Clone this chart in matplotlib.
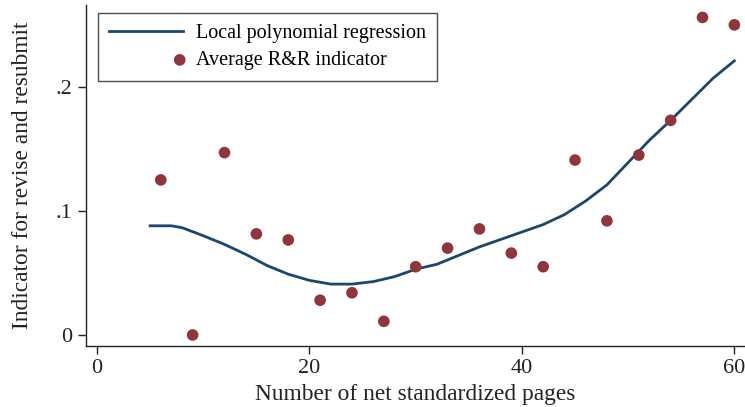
import numpy as np
import matplotlib
matplotlib.use("Agg")
import matplotlib.pyplot as plt
from matplotlib.legend_handler import HandlerPathCollection

# average R&R indicator by page bin
pages = [6, 9, 12, 15, 18, 21, 24, 27, 30, 33, 36, 39, 42, 45, 48, 51, 54, 57, 60]
avg_rr = [0.125, 0.0, 0.147, 0.0815, 0.0766, 0.028, 0.034, 0.011, 0.055, 0.070,
          0.0855, 0.066, 0.055, 0.141, 0.092, 0.145, 0.173, 0.256, 0.250]

# local polynomial fit
fit_x = [5, 7, 8, 10, 12, 14, 16, 18, 20, 22, 24, 26, 28, 30, 32, 34, 36, 38, 40,
         42, 44, 46, 48, 50, 52, 54, 56, 58, 60]
fit_y = [0.088, 0.088, 0.0865, 0.080, 0.073, 0.065, 0.056, 0.049, 0.044, 0.041,
         0.041, 0.043, 0.047, 0.053, 0.057, 0.064, 0.071, 0.077, 0.083, 0.089,
         0.097, 0.108, 0.121, 0.139, 0.157, 0.173, 0.190, 0.207, 0.221]

xticks = [0, 20, 40, 60]
yticks = [0, 0.1, 0.2]
ytick_labels = ["0", ".1", ".2"]


class RightMarker(HandlerPathCollection):
    # stata puts the legend marker at the right end of the key
    def get_xdata(self, legend, xdescent, ydescent, width, height, fontsize):
        x = -xdescent + width - 0.05 * width
        return [x], [x]


plt.rcParams["font.family"] = ["Liberation Serif", "DejaVu Serif"]

fig = plt.figure(figsize=(7.45, 4.07), dpi=100)
ax = fig.add_axes([86 / 745, 61 / 407, 1 - 86 / 745, 341 / 407])

ax.plot(fit_x, fit_y, color="#1a476f", lw=2, label="Local polynomial regression", zorder=2)
sc = ax.scatter(pages, avg_rr, s=70, color="#90353b", edgecolors="none",
                label="Average R&R indicator", zorder=3)

ax.set_xlim(-1.04, 61.0)
ax.set_ylim(-0.0089, 0.266)
ax.set_xticks(xticks)
ax.set_yticks(yticks)
ax.set_yticklabels(ytick_labels)
ax.tick_params(direction="out", length=6, width=1, labelsize=16, colors="#222222")
ax.tick_params(axis="y", pad=4)

for side in ["top", "right"]:
    ax.spines[side].set_visible(False)
for side in ["left", "bottom"]:
    ax.spines[side].set_linewidth(1)
    ax.spines[side].set_color("#222222")

ax.set_xlabel("Number of net standardized pages", fontsize=16.8, color="#222222", labelpad=4)
ax.set_ylabel("Indicator for revise and resubmit", fontsize=16.8, color="#222222", labelpad=16)

leg = ax.legend(loc="upper left", bbox_to_anchor=(0.018, 0.977), borderaxespad=0,
                fontsize=14.5, frameon=True, fancybox=False, edgecolor="#222222",
                handlelength=3.7, handletextpad=0.6, borderpad=0.55,
                labelspacing=0.4, markerscale=1.0,
                handler_map={sc: RightMarker()})
leg.get_frame().set_linewidth(1)

fig.savefig("out.png", dpi=100)
